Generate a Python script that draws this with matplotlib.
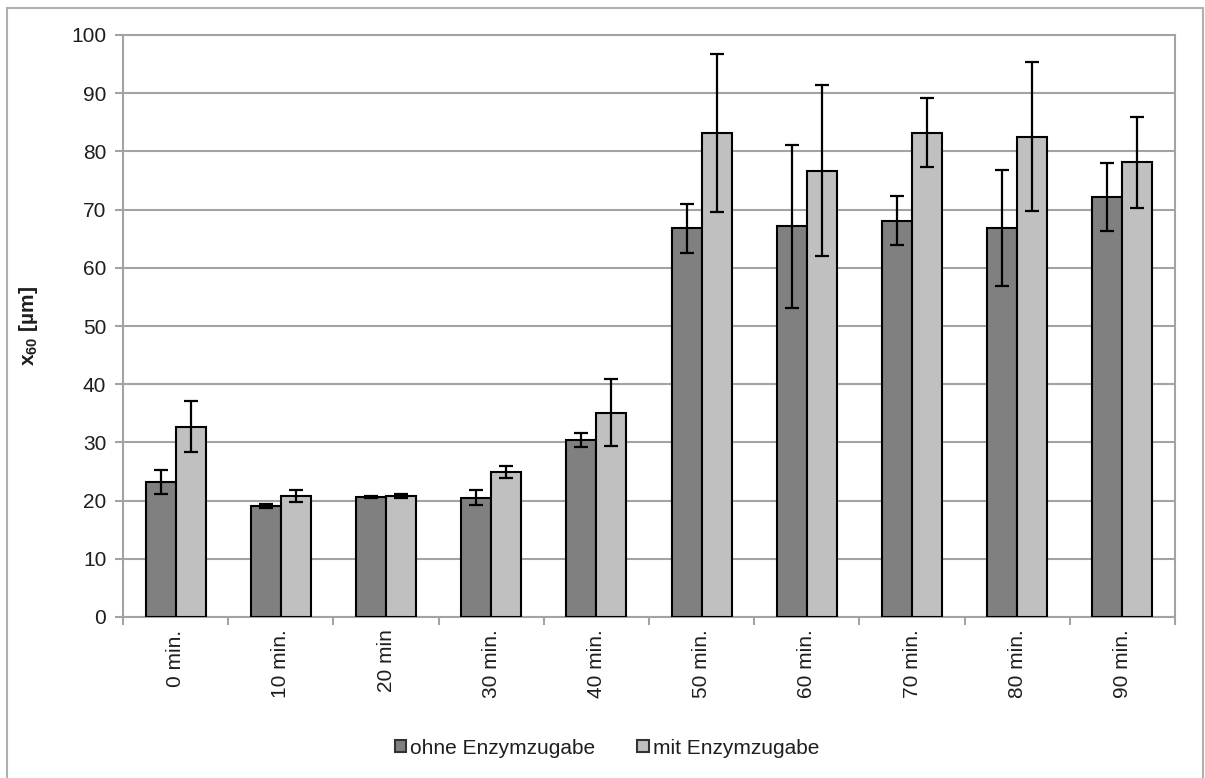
import matplotlib
matplotlib.use("Agg")
import matplotlib.pyplot as plt
import numpy as np
from matplotlib.patches import Patch, Rectangle

categories = ["0 min.", "10 min.", "20 min", "30 min.", "40 min.",
              "50 min.", "60 min.", "70 min.", "80 min.", "90 min."]
ohne_mean = [23.2, 19.1, 20.6, 20.5, 30.4, 66.8, 67.1, 68.1, 66.8, 72.2]
ohne_err = [2.1, 0.3, 0.2, 1.25, 1.2, 4.2, 14.0, 4.2, 10.0, 5.8]
mit_mean = [32.7, 20.8, 20.8, 24.9, 35.1, 83.2, 76.7, 83.2, 82.5, 78.1]
mit_err = [4.4, 1.05, 0.3, 1.1, 5.8, 13.6, 14.7, 5.9, 12.8, 7.8]
series_names = ["ohne Enzymzugabe", "mit Enzymzugabe"]

plt.rcParams["font.family"] = ["Liberation Sans", "DejaVu Sans"]
plt.rcParams["mathtext.fontset"] = "custom"
plt.rcParams["mathtext.bf"] = "Liberation Sans:bold"
plt.rcParams["mathtext.rm"] = "Liberation Sans:bold"

W, H = 1205, 778
fig = plt.figure(figsize=(W / 100, H / 100), dpi=100)
ax = fig.add_axes([123 / W, 1 - 617 / H, (1175 - 123) / W, (617 - 35) / H])

grid_col = "#a3a3a3"
dark_col = "#808080"
light_col = "#c0c0c0"
txt_col = "#1e1e1e"
fs = 15

x = np.arange(len(categories))
bw = 0.285
ax.bar(x - bw / 2, ohne_mean, bw, color=dark_col, edgecolor="black",
       linewidth=1.5, zorder=3)
ax.bar(x + bw / 2, mit_mean, bw, color=light_col, edgecolor="black",
       linewidth=1.5, zorder=3)
ax.errorbar(x - bw / 2, ohne_mean, yerr=ohne_err, fmt="none", ecolor="black",
            elinewidth=1.6, capsize=5, capthick=1.6, zorder=4)
ax.errorbar(x + bw / 2, mit_mean, yerr=mit_err, fmt="none", ecolor="black",
            elinewidth=1.6, capsize=5, capthick=1.6, zorder=4)

ax.set_xlim(-0.5, len(categories) - 0.5)
ax.set_ylim(0, 100)
ax.set_yticks(np.arange(0, 101, 10))
ax.yaxis.grid(True, color=grid_col, linewidth=1.5, zorder=0)
ax.set_axisbelow(True)

ax.set_xticks(x)
ax.set_xticklabels(categories, rotation=90, fontsize=fs, color=txt_col)
ax.tick_params(axis="x", which="major", length=0, pad=9)
ax.set_xticks(np.arange(-0.5, len(categories), 1.0), minor=True)
ax.tick_params(axis="x", which="minor", length=6, width=1.5, color=grid_col,
               direction="out")
ax.tick_params(axis="y", length=6, width=1.5, color=grid_col, direction="out",
               labelsize=fs, labelcolor=txt_col, pad=6)

for s in ax.spines.values():
    s.set_color(grid_col)
    s.set_linewidth(1.5)

fig.text(28 / W, 1 - 326 / H, r"x$_{\mathbf{60}}$ [µm]", rotation=90,
         ha="center", va="center", fontsize=fs, fontweight="bold",
         color=txt_col)

handles = [Patch(facecolor=dark_col, edgecolor="#333333", linewidth=1.5),
           Patch(facecolor=light_col, edgecolor="#333333", linewidth=1.5)]
fig.legend(handles, series_names, loc="center", bbox_to_anchor=(607 / W, 1 - 748 / H),
           ncol=2, frameon=False, fontsize=fs, handlelength=0.55,
           handleheight=0.55, handletextpad=0.2, columnspacing=2.0,
           labelcolor=txt_col)

# outer frame around the chart
fig.patches.append(Rectangle((7 / W, -0.01), (1203 - 7) / W, 1.01 - 8 / H,
                             transform=fig.transFigure, fill=False,
                             edgecolor="#b0b0b0", linewidth=1.5))

fig.savefig("out.png", dpi=100)
